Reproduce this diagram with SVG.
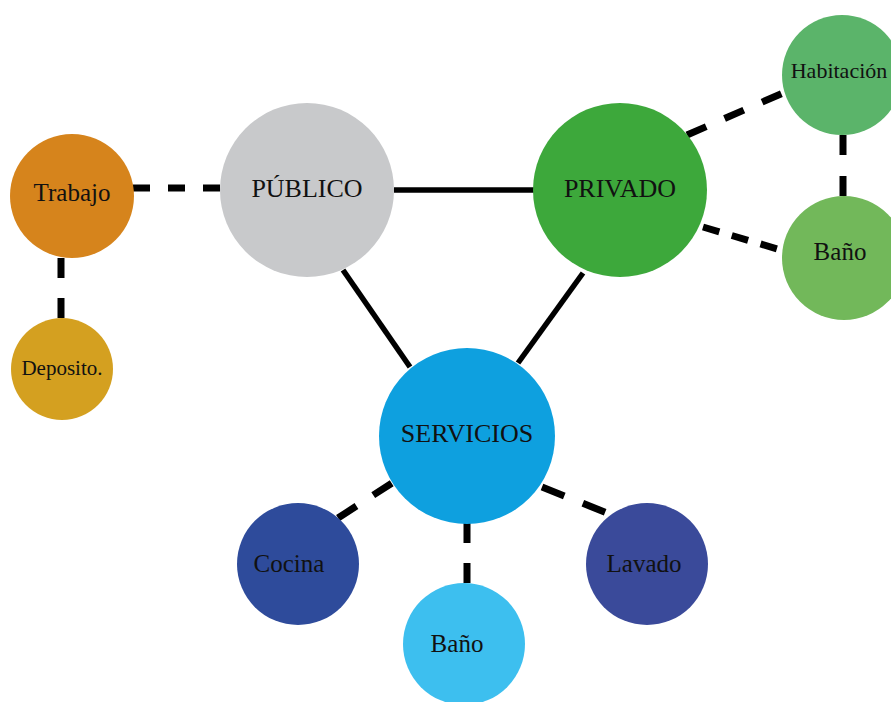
<svg xmlns="http://www.w3.org/2000/svg" width="891" height="702" viewBox="0 0 891 702">
  <style>
    .solid { stroke: #000; stroke-width: 5.5; fill: none; }
    .dash { stroke: #000; stroke-width: 7; fill: none; }
    text { font-family: "Liberation Serif", "Times New Roman", serif; text-anchor: middle; fill: #111; }
    .big { font-size: 26px; }
    .mid { font-size: 25px; }
  </style>
  <rect width="891" height="702" fill="#fff"/>

  <g id="connectors">
    <!-- main triangle -->
    <line class="solid" x1="394" y1="190" x2="534" y2="190"/>
    <line class="solid" x1="343" y1="270" x2="410" y2="367"/>
    <line class="solid" x1="583" y1="273" x2="518" y2="363"/>
    <!-- secondary links -->
    <line class="dash" x1="133" y1="188" x2="220" y2="188" stroke-dasharray="17 18"/>
    <line class="dash" x1="61" y1="258" x2="61" y2="319" stroke-dasharray="20 20"/>
    <line class="dash" x1="687" y1="135" x2="783" y2="93" stroke-dasharray="21 20"/>
    <line class="dash" x1="703" y1="227" x2="781" y2="250" stroke-dasharray="17 13"/>
    <line class="dash" x1="843" y1="135" x2="843" y2="197" stroke-dasharray="20 21"/>
    <line class="dash" x1="338" y1="518" x2="392" y2="483" stroke-dasharray="22 20"/>
    <line class="dash" x1="542" y1="487" x2="607" y2="513" stroke-dasharray="24 20"/>
    <line class="dash" x1="467" y1="523" x2="467" y2="583" stroke-dasharray="20 20"/>
  </g>

  <g id="publico">
    <circle cx="307" cy="190" r="87" fill="#C8C9CB"/>
    <text class="big" x="307" y="197">PÚBLICO</text>
  </g>
  <g id="privado">
    <circle cx="620" cy="190" r="87" fill="#3DA83B"/>
    <text class="big" x="620" y="197">PRIVADO</text>
  </g>
  <g id="servicios">
    <circle cx="467" cy="436" r="88" fill="#0EA0DF"/>
    <text class="big" x="467" y="442">SERVICIOS</text>
  </g>
  <g id="trabajo">
    <circle cx="72" cy="196" r="62" fill="#D6841C"/>
    <text class="mid" x="72" y="201">Trabajo</text>
  </g>
  <g id="deposito">
    <circle cx="62" cy="369" r="51" fill="#D4A020"/>
    <text x="62" y="375" font-size="21">Deposito.</text>
  </g>
  <g id="habitacion">
    <circle cx="842" cy="75" r="60" fill="#5BB46A"/>
    <text x="839" y="78" font-size="22">Habitación</text>
  </g>
  <g id="bano-privado">
    <circle cx="844" cy="258" r="62" fill="#72B85A"/>
    <text class="mid" x="840" y="260">Baño</text>
  </g>
  <g id="cocina">
    <circle cx="298" cy="564" r="61" fill="#2E4B9B"/>
    <text class="mid" x="289" y="572">Cocina</text>
  </g>
  <g id="lavado">
    <circle cx="647" cy="564" r="61" fill="#3A4A9A"/>
    <text class="mid" x="644" y="572">Lavado</text>
  </g>
  <g id="bano-servicio">
    <circle cx="464" cy="644" r="61" fill="#3DBFEF"/>
    <text class="mid" x="457" y="652">Baño</text>
  </g>
</svg>
